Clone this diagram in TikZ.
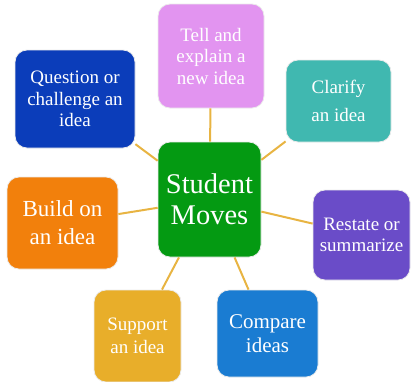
\documentclass[tikz,border=0pt]{standalone}
\usepackage{fontspec}
\setmainfont{Liberation Serif}
\definecolor{cTell}{HTML}{E294F0}
\definecolor{cQuest}{HTML}{0B3DBA}
\definecolor{cClar}{HTML}{40B8B0}
\definecolor{cStud}{HTML}{049A12}
\definecolor{cBuild}{HTML}{F2800C}
\definecolor{cRest}{HTML}{6A4CC8}
\definecolor{cSupp}{HTML}{E8AE2A}
\definecolor{cComp}{HTML}{1A7CD2}
\definecolor{cLine}{HTML}{E8B442}
\tikzset{
  movebox/.style={rectangle, rounded corners=12pt, draw=white!92!black, line width=0.8pt,
    text=white, align=center, font=\fontsize{19}{21.5}\selectfont, inner sep=0pt},
  link/.style={draw=cLine, line width=2pt}
}
\begin{document}
\begin{tikzpicture}[x=1pt,y=-1pt]
\useasboundingbox (0,0) rectangle (411,381);
\node[movebox, fill=cTell, minimum width=106pt, minimum height=104pt] (tell) at (211,56) {Tell and\\explain a\\new idea};
\node[movebox, fill=cQuest, minimum width=120pt, minimum height=98pt] (quest) at (75,99) {Question or\\challenge an\\idea};
\node[movebox, fill=cClar, minimum width=105pt, minimum height=82pt] (clar) at (338.5,101) {Clarify\\[7pt]an idea};
\node[movebox, fill=cStud, minimum width=103pt, minimum height=115pt, font=\fontsize{28.5}{31}\selectfont] (stud) at (209.5,199.5) {Student\\Moves};
\node[movebox, fill=cBuild, minimum width=111pt, minimum height=92pt, font=\fontsize{23}{28}\selectfont] (build) at (62.5,223) {Build on\\an idea};
\node[movebox, fill=cRest, minimum width=97pt, minimum height=90pt] (rest) at (361.5,235) {Restate or\\summarize};
\node[movebox, fill=cSupp, minimum width=87pt, minimum height=92pt] (supp) at (137.5,336) {Support\\[1pt]an idea};
\node[movebox, fill=cComp, minimum width=101pt, minimum height=87pt, font=\fontsize{21}{24}\selectfont] (comp) at (267.5,333.5) {Compare\\ideas};
\draw[link] (tell) -- (stud);
\draw[link] (quest) -- (stud);
\draw[link] (clar) -- (stud);
\draw[link] (build) -- (stud);
\draw[link] (rest) -- (stud);
\draw[link] (supp) -- (stud);
\draw[link] (comp) -- (stud);
\end{tikzpicture}
\end{document}
